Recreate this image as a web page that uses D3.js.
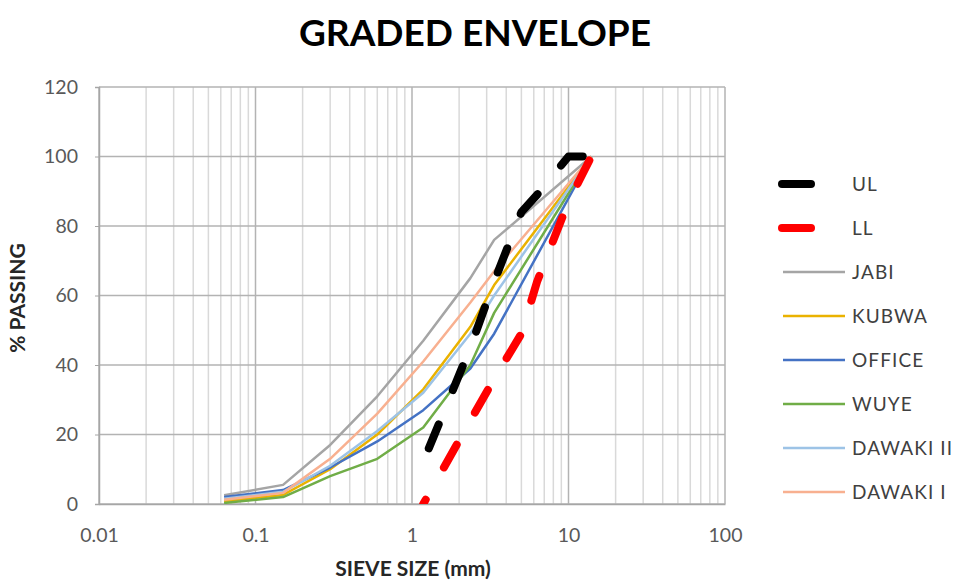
<!DOCTYPE html>
<html><head><meta charset="utf-8">
<script src="https://cdn.jsdelivr.net/npm/d3@7"></script>
<style>
body{margin:0;background:#fff;}
svg{display:block;font-family:Lato,"Open Sans",sans-serif;}
</style></head>
<body><svg id="chart" width="953" height="582"></svg>
<script>
// ---- data ----
const sieveSizes = [0.063, 0.15, 0.3, 0.6, 1.18, 2.36, 3.35, 14];
const jabi     = [2.5, 5.5, 17, 31, 47, 65, 76, 100];
const kubwa    = [0.8, 2.6, 10, 20, 33, 51, 63, 100];
const office   = [2, 4, 10.5, 18, 27, 39, 49, 100];
const wuye     = [0.3, 2, 8, 13, 22, 40, 55, 100];
const dawakiII = [1.5, 3.5, 11, 21, 32, 49, 60, 100];
const dawakiI  = [1.2, 3.2, 13, 26, 41, 58, 67, 100];
const ulSizes = [1.28, 2.36, 3.35, 5, 6.3, 10, 14];
const ulPass  = [16, 45, 64, 84, 89, 100, 100];
const llSizes = [1.18, 2.36, 3.35, 5, 6.3, 10, 14];
const llPass  = [0, 24, 36, 49, 64, 87, 100];
const xTicks = [0.01, 0.1, 1, 10, 100];
const yTicks = [0, 20, 40, 60, 80, 100, 120];

const series = [
  {name:"UL", xs:ulSizes, ys:ulPass, color:"#000000", dashed:true, offset:0},
  {name:"LL", xs:llSizes, ys:llPass, color:"#ff0000", dashed:true, offset:21},
  {name:"JABI", xs:sieveSizes, ys:jabi, color:"#a5a5a5"},
  {name:"KUBWA", xs:sieveSizes, ys:kubwa, color:"#eab200"},
  {name:"OFFICE", xs:sieveSizes, ys:office, color:"#4472c4"},
  {name:"WUYE", xs:sieveSizes, ys:wuye, color:"#70ad47"},
  {name:"DAWAKI II", xs:sieveSizes, ys:dawakiII, color:"#9dc3e6"},
  {name:"DAWAKI I", xs:sieveSizes, ys:dawakiI, color:"#f8b090"}
];

// ---- layout ----
const svg = d3.select("#chart");
const L = 99, R = 725, T = 87, B = 504;
const x = d3.scaleLog().domain([0.01, 100]).range([L, R]);
const y = d3.scaleLinear().domain([0, 120]).range([B, T]);

// minor vertical grid
const minor = [];
[0.01, 0.1, 1, 10].forEach(d => { for (let k = 2; k <= 9; k++) minor.push(k * d); });
svg.append("g").selectAll("line").data(minor).join("line")
  .attr("x1", d => x(d)).attr("x2", d => x(d)).attr("y1", T).attr("y2", B)
  .attr("stroke", "#d9d9d9").attr("stroke-width", 1.5);
// horizontal grid
svg.append("g").selectAll("line").data(yTicks).join("line")
  .attr("x1", L).attr("x2", R).attr("y1", d => y(d)).attr("y2", d => y(d))
  .attr("stroke", "#b3b3b3").attr("stroke-width", 1.5);
// major vertical grid
svg.append("g").selectAll("line").data(xTicks).join("line")
  .attr("x1", d => x(d)).attr("x2", d => x(d)).attr("y1", T).attr("y2", B)
  .attr("stroke", "#b3b3b3").attr("stroke-width", 1.5);

// axes
const yAxis = d3.axisLeft(y).tickValues(yTicks).tickSize(4).tickPadding(17);
const gy = svg.append("g").attr("transform", `translate(${L},0)`).call(yAxis);
gy.select(".domain").attr("stroke", "#a6a6a6").attr("stroke-width", 1.5);
gy.selectAll(".tick line").attr("stroke", "#a6a6a6");
gy.selectAll("text").attr("fill", "#595959").style("font-size", "19.5px").style("font-family", "Lato");

const xAxis = d3.axisBottom(x).tickValues(xTicks).tickFormat(d => String(d)).tickSize(0).tickPadding(24);
const gx = svg.append("g").attr("transform", `translate(0,${B})`).call(xAxis);
gx.select(".domain").attr("stroke", "#a6a6a6").attr("stroke-width", 1.5);
gx.selectAll("text").attr("fill", "#595959").style("font-size", "19.5px").style("font-family", "Lato");

// clip
svg.append("clipPath").attr("id", "clip").append("rect")
  .attr("x", L).attr("y", T - 10).attr("width", R - L).attr("height", B - T + 10);

const plot = svg.append("g").attr("clip-path", "url(#clip)");
const line = d3.line();

series.slice(2).forEach(s => {
  const pts = s.xs.map((v, i) => [x(v), y(s.ys[i])]);
  plot.append("path").attr("d", line(pts)).attr("fill", "none")
    .attr("stroke", s.color).attr("stroke-width", 2.5).attr("stroke-linejoin", "round");
});
series.slice(0, 2).forEach(s => {
  const pts = s.xs.map((v, i) => [x(v), y(s.ys[i])]);
  plot.append("path").attr("d", line(pts)).attr("fill", "none")
    .attr("stroke", s.color).attr("stroke-width", 8).attr("stroke-linecap", "round")
    .attr("stroke-linejoin", "round").attr("stroke-dasharray", "26,37")
    .attr("stroke-dashoffset", s.offset);
});

// title
svg.append("text").attr("x", 475).attr("y", 46).attr("text-anchor", "middle")
  .style("font-size", "37px").style("font-weight", "bold").attr("fill", "#000")
  .text("GRADED ENVELOPE");
// axis titles
svg.append("text").attr("x", 413).attr("y", 576).attr("text-anchor", "middle")
  .style("font-size", "21px").style("font-weight", "bold").attr("fill", "#262626")
  .text("SIEVE SIZE (mm)");
svg.append("text").attr("transform", "translate(25,298) rotate(-90)").attr("text-anchor", "middle")
  .style("font-size", "21px").style("font-weight", "bold").attr("fill", "#262626")
  .text("% PASSING");

// legend
const lg = svg.append("g");
series.forEach((s, i) => {
  const yy = 184 + i * 44;
  if (s.dashed) {
    lg.append("line").attr("x1", 782).attr("x2", 811).attr("y1", yy).attr("y2", yy)
      .attr("stroke", s.color).attr("stroke-width", 8).attr("stroke-linecap", "round");
  } else {
    lg.append("line").attr("x1", 783).attr("x2", 845).attr("y1", yy).attr("y2", yy)
      .attr("stroke", s.color).attr("stroke-width", 2.5);
  }
  lg.append("text").attr("x", 852).attr("y", yy + 7).style("font-size", "19px")
    .style("letter-spacing", "1.1px").attr("fill", "#404040").text(s.name);
});
</script></body></html>
